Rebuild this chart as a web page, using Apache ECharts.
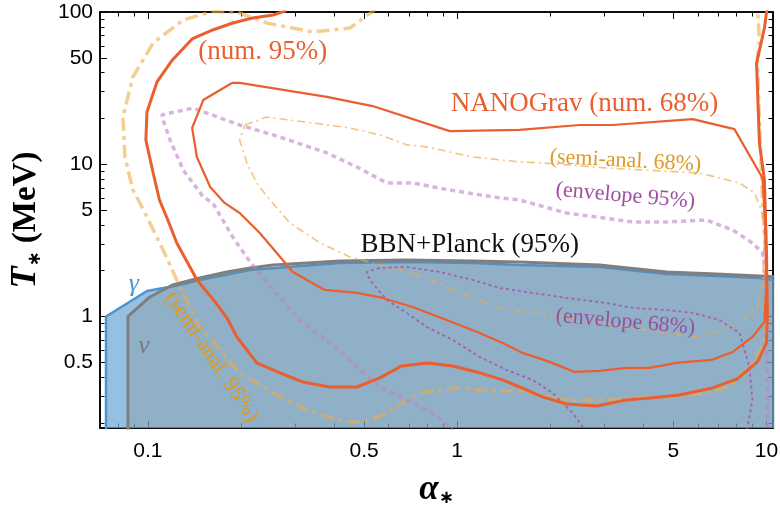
<!DOCTYPE html>
<html><head><meta charset="utf-8">
<script src="https://cdn.jsdelivr.net/npm/echarts@6/dist/echarts.min.js"></script>
<style>html,body{margin:0;padding:0;background:#fff}#c{width:780px;height:510px}</style>
</head><body><div id="c"></div>
<script>
// ---- axis ranges and ticks ----
const xMin = 0.07, xMax = 10.5, yMin = 0.185, yMax = 100;
const xMajor = [0.1, 0.5, 1, 5, 10];
const xMinor = [0.08, 0.09, 0.2, 0.3, 0.4, 0.6, 0.7, 0.8, 0.9, 2, 3, 4, 6, 7, 8, 9];
const yMajor = [0.5, 1, 5, 10, 50, 100];
const yMinor = [0.2, 0.3, 0.4, 0.6, 0.7, 0.8, 0.9, 2, 3, 4, 6, 7, 8, 9, 20, 30, 40, 60, 70, 80, 90];

// ---- curves: [alpha_*, T_* (MeV)] ----
const num95 = [[0.28,102],[0.254,95.5],[0.218,91.4],[0.188,84.7],[0.162,76.2],[0.139,66.5],[0.120,48.4],[0.107,34.7],[0.0993,22.0],[0.0985,14.4],[0.104,8.76],[0.109,5.82],[0.116,4.30],[0.124,3.04],[0.134,2.28],[0.144,1.74],[0.165,1.245],[0.180,0.978],[0.194,0.733],[0.225,0.495],[0.267,0.426],[0.317,0.371],[0.387,0.344],[0.474,0.344],[0.562,0.395],[0.662,0.473],[0.803,0.495],[0.967,0.473],[1.156,0.432],[1.403,0.383],[1.592,0.344],[1.888,0.296],[2.259,0.266],[2.825,0.258],[3.53,0.283],[4.285,0.292],[5.236,0.305],[6.69,0.339],[8.05,0.389],[9.35,0.503],[10.0,0.670],[10.07,1.023],[10.0,2.735],[9.85,7.88],[9.49,13.8],[9.29,46.2],[9.85,78.5],[10.07,110]];
const num68 = [[0.187,34.2],[0.151,26.4],[0.139,17.3],[0.144,11.16],[0.159,7.09],[0.177,5.57],[0.198,4.78],[0.230,3.53],[0.261,2.61],[0.294,1.96],[0.373,1.493],[0.474,1.427],[0.574,1.323],[0.718,1.154],[0.925,0.948],[1.182,0.779],[1.403,0.670],[1.628,0.576],[1.991,0.503],[2.397,0.432],[2.887,0.439],[3.529,0.459],[4.188,0.459],[5.121,0.495],[6.64,0.518],[7.77,0.584],[9.01,0.733],[9.85,0.920],[10.0,1.66],[9.92,3.70],[9.71,8.12],[7.88,17.0],[5.77,19.8],[3.18,18.1],[2.488,18.1],[1.592,16.8],[0.946,16.5],[0.533,24.1],[0.379,27.7],[0.198,34.2],[0.187,34.2]];
const semi95 = [[0.550,106],[0.450,78.5],[0.341,73.9],[0.242,84.7],[0.198,98.5],[0.162,101],[0.130,88.6],[0.104,62.6],[0.0894,37.4],[0.0830,20.4],[0.0843,11.16],[0.0894,6.77],[0.0942,5.57],[0.103,3.87],[0.112,2.735],[0.124,1.737],[0.137,1.154],[0.147,0.853],[0.161,0.701],[0.198,0.426],[0.254,0.3145],[0.326,0.243],[0.417,0.209],[0.495,0.200],[0.592,0.232],[0.687,0.283],[0.774,0.319],[0.996,0.339],[1.302,0.324],[1.592,0.324],[2.259,0.283],[2.887,0.283],[3.690,0.2915],[4.753,0.296],[6.40,0.3145],[7.59,0.344],[8.81,0.459],[9.71,0.630],[10.0,0.853],[9.92,2.735],[9.71,5.82],[9.49,19.5],[9.35,48.4],[9.49,65.5],[9.35,110]];
const semi68 = [[0.206,18.1],[0.242,20.4],[0.326,18.9],[0.450,17.3],[0.562,15.6],[0.687,13.4],[0.797,13.0],[1.122,11.16],[1.592,10.35],[1.888,10.2],[3.04,9.45],[6.07,8.76],[8.18,7.53],[9.14,6.48],[9.63,5.01],[9.85,3.53],[9.71,1.66],[9.35,1.154],[8.18,0.906],[6.69,0.779],[5.77,0.733],[4.753,0.779],[3.690,0.840],[2.887,0.906],[2.259,0.992],[1.754,1.054],[1.372,1.137],[0.967,1.493],[0.797,1.790],[0.652,2.02],[0.533,2.246],[0.450,2.459],[0.360,3.04],[0.288,4.11],[0.248,5.82],[0.227,7.31],[0.210,9.89],[0.198,14.4],[0.206,18.1]];
const env95 = [[0.982,0.174],[0.833,0.232],[0.687,0.283],[0.562,0.344],[0.474,0.466],[0.387,0.670],[0.310,0.948],[0.254,1.493],[0.214,2.28],[0.188,3.33],[0.162,5.57],[0.151,6.10],[0.130,9.17],[0.118,14.4],[0.112,19.5],[0.111,21.1],[0.140,23.4],[0.198,18.1],[0.267,15.1],[0.379,11.86],[0.474,9.59],[0.592,7.53],[0.718,7.53],[0.946,6.77],[1.302,6.10],[1.592,5.82],[2.259,4.78],[3.690,4.18],[4.753,4.18],[6.40,4.30],[7.77,3.70],[9.01,3.04],[9.71,2.61],[10.0,1.737],[10.0,0.779],[10.07,0.283],[10.07,0.174]];
const env68 = [[2.62,0.174],[2.362,0.232],[2.035,0.3145],[1.754,0.383],[1.445,0.445],[1.182,0.542],[0.967,0.701],[0.797,0.853],[0.687,1.054],[0.592,1.284],[0.522,1.737],[0.510,1.96],[0.562,2.083],[0.687,2.114],[0.878,1.96],[1.122,1.737],[1.372,1.539],[1.754,1.427],[2.259,1.323],[3.04,1.227],[3.690,1.137],[4.753,1.103],[5.77,1.054],[7.05,0.948],[8.18,0.779],[8.81,0.466],[9.01,0.283],[8.62,0.174]];
const gammaBound = [[0.0732,0.17],[0.0732,1.0],[0.0993,1.47],[0.127,1.61],[0.147,1.737],[0.214,2.02],[0.417,2.246],[0.687,2.28],[1.122,2.246],[1.592,2.18],[2.887,2.114],[4.753,1.90],[6.89,1.845],[9.49,1.79],[10.6,1.737]];
const nuBound = [[0.0862,0.17],[0.0862,1.0],[0.1015,1.343],[0.120,1.61],[0.147,1.79],[0.180,1.96],[0.214,2.083],[0.254,2.18],[0.417,2.315],[0.687,2.35],[1.122,2.315],[1.592,2.28],[2.887,2.18],[4.753,1.96],[6.89,1.90],[9.49,1.845],[10.6,1.82]];

// ---- annotation texts and anchors ----
const labelTexts = ['(num. 95%)','NANOGrav (num. 68%)','(semi-anal. 68%)','(envelope 95%)','BBN+Planck (95%)','(envelope 68%)','(semi-anal. 95%)','γ','ν'];
const labelAnchors = [[0.235,54.6],[2.58,24.9],[3.50,10.5],[3.50,6.19],[1.098,2.95],[3.50,0.92],[0.161,0.542],[0.0901,1.635],[0.0971,0.640]];

// ---- styles ----
const ORANGE = '#e95f30';
const labelStyles = [
  {color:ORANGE,size:27,rot:0},
  {color:ORANGE,size:27,rot:0},
  {color:'#dc9a26',size:22,rot:-3},
  {color:'#9e4fa0',size:22,rot:-5},
  {color:'#111111',size:27,rot:0},
  {color:'#9a4e9c',size:22,rot:-5},
  {color:'#e39a14',size:22,rot:-56},
  {color:'#4b93cc',size:26,rot:0,italic:true},
  {color:'#7a7a7a',size:26,rot:0,italic:true}
];

const fmt = v => String(+Number(v).toPrecision(6));
const axisLine = {show:true,onZero:false,lineStyle:{color:'#000',width:1.6}};
function mkX(pos, ticks, len, labels, extra) {
  return Object.assign({type:'log',logBase:10,min:xMin,max:xMax,position:pos,gridIndex:0,
    axisLine, splitLine:{show:false}, minorTick:{show:false}, minorSplitLine:{show:false},
    axisTick:{show:true,inside:true,length:len,customValues:ticks,lineStyle:{color:'#000',width:1}},
    axisLabel:{show:labels,customValues:ticks,formatter:fmt,fontSize:21,color:'#000',fontFamily:'Liberation Sans',margin:13}}, extra||{});
}
function mkY(pos, ticks, len, labels, extra) {
  return Object.assign({type:'log',logBase:10,min:yMin,max:yMax,position:pos,gridIndex:0,
    axisLine, splitLine:{show:false}, minorTick:{show:false}, minorSplitLine:{show:false},
    axisTick:{show:true,inside:true,length:len,customValues:ticks,lineStyle:{color:'#000',width:1}},
    axisLabel:{show:labels,customValues:ticks,formatter:fmt,fontSize:21,color:'#000',fontFamily:'Liberation Sans',margin:7}}, extra||{});
}

function lineS(data, style, z, area) {
  const s = {type:'line',data,showSymbol:false,symbol:'none',silent:true,animation:false,clip:true,
    xAxisIndex:0,yAxisIndex:0,lineStyle:style,z};
  if (area) s.areaStyle = {color:area,opacity:1,origin:'start'};
  return s;
}

const chart = echarts.init(document.getElementById('c'), null, {renderer:'canvas'});
chart.setOption({
  animation:false,
  backgroundColor:'#fff',
  grid:{left:100,right:7,top:12,bottom:82,containLabel:false,outerBoundsMode:'none'},
  xAxis:[
    mkX('bottom', xMajor, 7, true, {
      name:'{a|α}{s|∗}', nameLocation:'middle', nameGap:44,
      nameTextStyle:{color:'#000',rich:{
        a:{fontFamily:'Liberation Serif',fontSize:35,fontWeight:'bold',fontStyle:'italic',color:'#000'},
        s:{fontFamily:'DejaVu Sans',fontSize:18,fontWeight:'bold',color:'#000',verticalAlign:'bottom',padding:[16,0,0,0]}}}
    }),
    mkX('bottom', xMinor, 4.5, false),
    mkX('top', xMajor, 7, false),
    mkX('top', xMinor, 4.5, false)
  ],
  yAxis:[
    mkY('left', yMajor, 7, true, {
      name:'{t|T}{s|∗}{m| (MeV)}', nameLocation:'middle', nameGap:56, nameRotate:90,
      nameTextStyle:{color:'#000',rich:{
        t:{fontFamily:'Liberation Serif',fontSize:36,fontWeight:'bold',fontStyle:'italic',color:'#000'},
        s:{fontFamily:'DejaVu Sans',fontSize:18,fontWeight:'bold',color:'#000',verticalAlign:'bottom',padding:[15,0,0,0]},
        m:{fontFamily:'Liberation Serif',fontSize:33,fontWeight:'bold',color:'#000'}}}
    }),
    mkY('left', yMinor, 4.5, false),
    mkY('right', yMajor, 7, false),
    mkY('right', yMinor, 4.5, false)
  ],
  series:[
    lineS(gammaBound, {color:'#4d93cc',width:2.5}, 1, 'rgba(110,168,214,0.72)'),
    lineS(nuBound, {color:'#7f7f7f',width:3}, 2, 'rgba(128,128,128,0.25)'),
    lineS(semi95, {color:'rgba(236,172,72,0.6)',width:3.5,type:[13,5,4,5]}, 3),
    lineS(semi68, {color:'rgba(236,172,72,0.7)',width:1.6,type:[8,4,2,4]}, 3),
    lineS(env95, {color:'rgba(190,130,200,0.6)',width:3.5,type:[5,4]}, 3),
    lineS(env68, {color:'rgba(170,80,175,0.85)',width:1.8,type:[3,3]}, 3),
    lineS(num95, {color:ORANGE,width:3}, 4),
    lineS(num68, {color:ORANGE,width:2.2}, 4),
    {type:'scatter',silent:true,animation:false,z:10,symbolSize:1,
     itemStyle:{color:'rgba(0,0,0,0)',opacity:1},
     xAxisIndex:0,yAxisIndex:0,
     data: labelTexts.map((t,i)=>({value:labelAnchors[i],label:{show:true,position:'inside',formatter:t,opacity:1,
        textBorderWidth:0,color:labelStyles[i].color,fontSize:labelStyles[i].size,rotate:labelStyles[i].rot,
        fontStyle:labelStyles[i].italic?'italic':'normal',fontFamily:'Liberation Serif'}}))}
  ]
});
</script></body></html>
